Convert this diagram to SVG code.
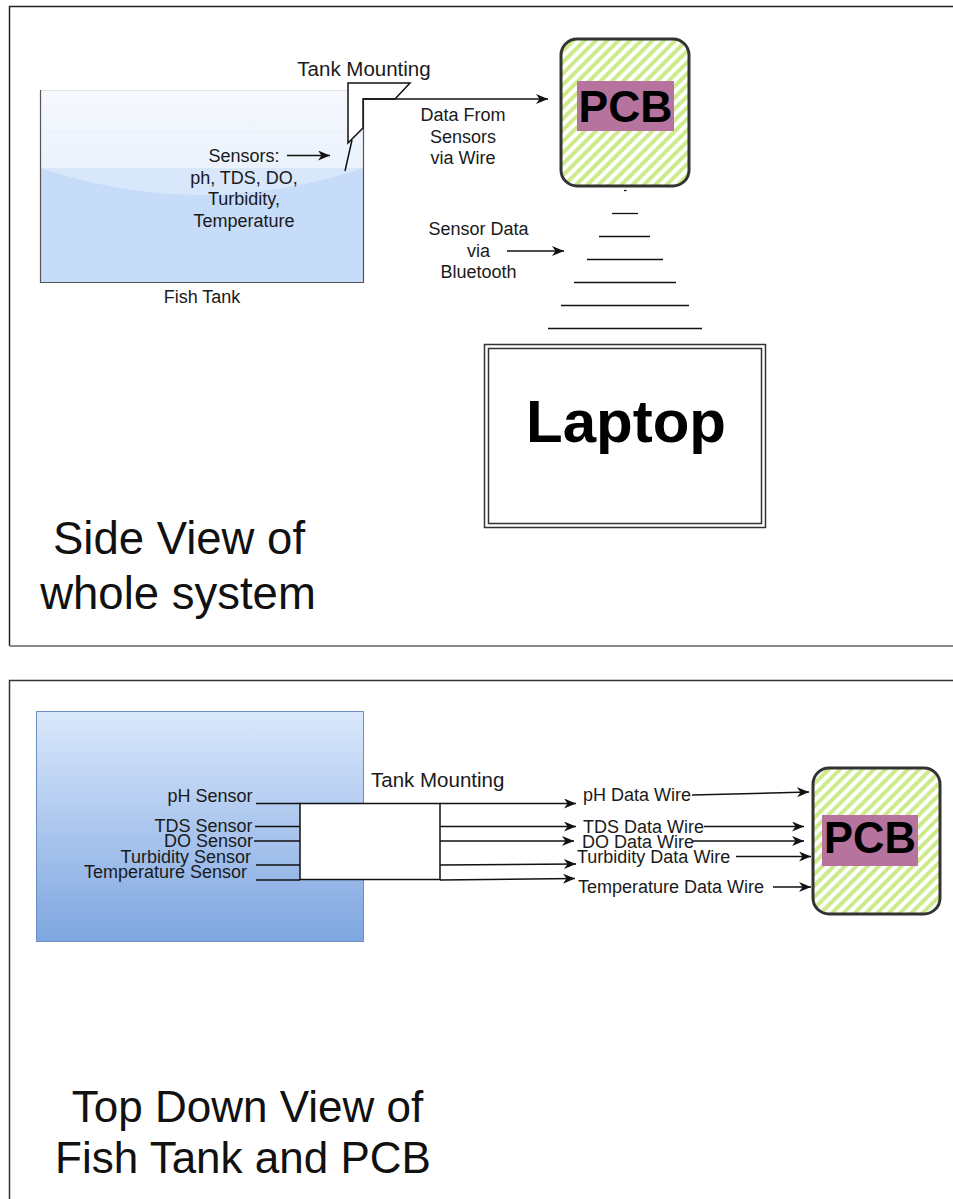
<svg xmlns="http://www.w3.org/2000/svg" width="953" height="1199" viewBox="0 0 953 1199">
  <style>
    .lbl { font-family: "Liberation Sans", Arial, sans-serif; font-size: 18px; fill: #1a1a1a; }
    .mid { text-anchor: middle; }
    .end { text-anchor: end; }
    .title { font-family: "Liberation Sans", Arial, sans-serif; fill: #111; text-anchor: middle; }
    .bold { font-family: "Liberation Sans", Arial, sans-serif; font-weight: bold; fill: #000; text-anchor: middle; }
    .wire { stroke: #111; stroke-width: 1.5; fill: none; }
    .arrow { stroke: #111; stroke-width: 1.5; fill: none; marker-end: url(#head); }
    .pcb-body { fill: url(#hatch); stroke: #333; stroke-width: 3; }
    .pcb-tag { fill: #b5739d; }
  </style>
  <defs>
    <marker id="head" markerUnits="userSpaceOnUse" markerWidth="14" markerHeight="12" refX="12" refY="5" orient="auto">
      <path d="M0,0 L12,5 L0,10 L3.5,5 Z" fill="#111"/>
    </marker>
    <pattern id="hatch" patternUnits="userSpaceOnUse" width="8" height="8" patternTransform="rotate(45)">
      <rect width="8" height="8" fill="#fff"/>
      <rect width="4" height="8" fill="#cdeb8b"/>
    </pattern>
    <linearGradient id="airGrad" x1="0" y1="0" x2="0" y2="1">
      <stop offset="0" stop-color="#f6f9fe"/>
      <stop offset="1" stop-color="#dbe8f9"/>
    </linearGradient>
    <linearGradient id="topTankGrad" x1="0" y1="0" x2="0" y2="1">
      <stop offset="0" stop-color="#dae8fc"/>
      <stop offset="1" stop-color="#7ea6e0"/>
    </linearGradient>
  </defs>

  <rect width="953" height="1199" fill="#fff"/>

  <!-- panel frames -->
  <g id="side-panel">
    <path d="M953,6.5 H9.5 V646" fill="none" stroke="#222" stroke-width="1.5"/>
    <path d="M9.5,646 H953" fill="none" stroke="#8a8a8a" stroke-width="2"/>
  </g>
  <g id="top-panel">
    <path d="M953,680.5 H9.5 V1199" fill="none" stroke="#333" stroke-width="1.5"/>
  </g>

  <!-- ===== side view ===== -->
  <g id="fish-tank-side">
    <rect x="40" y="90" width="324" height="193" fill="url(#airGrad)"/>
    <line x1="40" y1="132" x2="364" y2="132" stroke="#e6eef9" stroke-width="1.5" stroke-dasharray="2 2"/>
    <rect x="40" y="168" width="324" height="115" fill="#c6dcf8"/>
    <path d="M40,168 Q202,222 364,168 Z" fill="#d9e7fa"/>
    <line x1="40" y1="90.5" x2="364" y2="90.5" stroke="#e2e2e2" stroke-width="1"/>
    <path d="M40.5,90 V282.5 H363.5 V90" fill="none" stroke="#555" stroke-width="1.2"/>
    <text class="lbl mid" x="202" y="303">Fish Tank</text>
  </g>

  <g id="sensors-side">
    <text class="lbl mid" x="244" y="162">Sensors:</text>
    <text class="lbl mid" x="244" y="183.5">ph, TDS, DO,</text>
    <text class="lbl mid" x="244" y="205">Turbidity,</text>
    <text class="lbl mid" x="244" y="226.5">Temperature</text>
  </g>

  <g id="tank-mounting-side">
    <polygon points="348,83 410,83 395,99 363,99 363,128 353,138 348,143" fill="#fff" stroke="#111" stroke-width="1.5"/>
    <text class="lbl mid" x="364" y="76" style="font-size:20.5px">Tank Mounting</text>
  </g>

  <g id="pcb-side">
    <rect class="pcb-body" x="561" y="39" width="128" height="147" rx="16"/>
    <rect class="pcb-tag" x="577" y="81" width="97" height="50"/>
    <text class="bold" x="625.5" y="122" style="font-size:44.5px">PCB</text>
  </g>

  <g id="bluetooth-waves">
    <g stroke="#111" stroke-width="1.3">
      <line x1="624" y1="190.5" x2="626.5" y2="190.5"/>
      <line x1="612" y1="213.5" x2="638" y2="213.5"/>
      <line x1="599" y1="236.5" x2="650" y2="236.5"/>
      <line x1="587" y1="259.5" x2="663" y2="259.5"/>
      <line x1="574" y1="282.5" x2="676" y2="282.5"/>
      <line x1="561" y1="305.5" x2="689" y2="305.5"/>
      <line x1="548" y1="328.5" x2="702" y2="328.5"/>
    </g>
  </g>

  <g id="laptop">
    <rect x="484.5" y="344.5" width="281" height="183" fill="#fff" stroke="#333" stroke-width="1.5"/>
    <rect x="488.5" y="348.5" width="273" height="175" fill="none" stroke="#333" stroke-width="1.5"/>
    <text class="bold" x="626" y="442" style="font-size:60px">Laptop</text>
  </g>

  <g id="side-labels">
    <text class="lbl mid" x="463" y="121">Data From</text>
    <text class="lbl mid" x="463" y="142.5">Sensors</text>
    <text class="lbl mid" x="463" y="164">via Wire</text>
    <text class="lbl mid" x="478.5" y="235">Sensor Data</text>
    <text class="lbl mid" x="478.5" y="256.5">via</text>
    <text class="lbl mid" x="478.5" y="278">Bluetooth</text>
  </g>

  <g id="side-title">
    <text class="title" x="179" y="554" style="font-size:45.5px">Side View of</text>
    <text class="title" x="178" y="609" style="font-size:45.5px">whole system</text>
  </g>

  <g id="side-connectors">
    <line class="arrow" x1="287" y1="155.5" x2="330" y2="155.5"/>
    <line class="wire" x1="352" y1="140" x2="345" y2="171"/>
    <line class="arrow" x1="363" y1="99" x2="548" y2="99"/>
    <line class="arrow" x1="507" y1="251" x2="564" y2="251"/>
  </g>

  <!-- ===== top-down view ===== -->
  <g id="fish-tank-top">
    <rect x="36.5" y="711.5" width="327" height="230" fill="url(#topTankGrad)" stroke="#6c8ebf" stroke-width="1"/>
  </g>

  <g id="tank-mounting-top">
    <rect x="300" y="803.5" width="140" height="76" fill="#fff" stroke="#111" stroke-width="1.5"/>
    <text class="lbl" x="371" y="787" style="font-size:20.5px">Tank Mounting</text>
  </g>

  <g id="sensor-labels-top">
    <text class="lbl end" x="252.5" y="801.5">pH Sensor</text>
    <text class="lbl end" x="252.5" y="832">TDS Sensor</text>
    <text class="lbl end" x="253" y="847">DO Sensor</text>
    <text class="lbl end" x="251" y="862.5">Turbidity Sensor</text>
    <text class="lbl end" x="247" y="877.5">Temperature Sensor</text>
  </g>

  <g id="wire-labels-top">
    <text class="lbl" x="583" y="800.5">pH Data Wire</text>
    <text class="lbl" x="583" y="832.5">TDS Data Wire</text>
    <text class="lbl" x="582" y="847.5">DO Data Wire</text>
    <text class="lbl" x="577" y="863">Turbidity Data Wire</text>
    <text class="lbl" x="578" y="893">Temperature Data Wire</text>
  </g>

  <g id="pcb-top">
    <rect class="pcb-body" x="813" y="768" width="127" height="146" rx="16"/>
    <rect class="pcb-tag" x="822" y="815" width="96" height="51"/>
    <text class="bold" x="870" y="853" style="font-size:43.5px">PCB</text>
  </g>

  <g id="top-title">
    <text class="title" x="247.5" y="1121.5" style="font-size:44px">Top Down View of</text>
    <text class="title" x="243" y="1173" style="font-size:44px">Fish Tank and PCB</text>
  </g>

  <g id="top-connectors">
    <!-- sensor leads into the mounting -->
    <line class="wire" x1="256" y1="803.5" x2="300" y2="803.5"/>
    <line class="wire" x1="255" y1="826.5" x2="300" y2="826.5"/>
    <line class="wire" x1="254" y1="841" x2="300" y2="841"/>
    <line class="wire" x1="256" y1="865" x2="300" y2="865"/>
    <line class="wire" x1="256" y1="880" x2="300" y2="880"/>
    <!-- mounting to wire labels -->
    <line class="arrow" x1="440" y1="803.5" x2="576" y2="803.5"/>
    <line class="arrow" x1="440" y1="826.5" x2="576" y2="826.5"/>
    <line class="arrow" x1="440" y1="841" x2="574" y2="841"/>
    <line class="arrow" x1="440" y1="865" x2="576" y2="864"/>
    <line class="arrow" x1="440" y1="880" x2="575" y2="878.5"/>
    <!-- wire labels to PCB -->
    <line class="arrow" x1="692" y1="795" x2="809" y2="792"/>
    <line class="arrow" x1="704" y1="826.5" x2="804" y2="826.5"/>
    <line class="arrow" x1="693" y1="841" x2="804" y2="841"/>
    <line class="arrow" x1="736" y1="856.5" x2="811" y2="856.5"/>
    <line class="arrow" x1="773" y1="887" x2="811" y2="887"/>
  </g>
</svg>
